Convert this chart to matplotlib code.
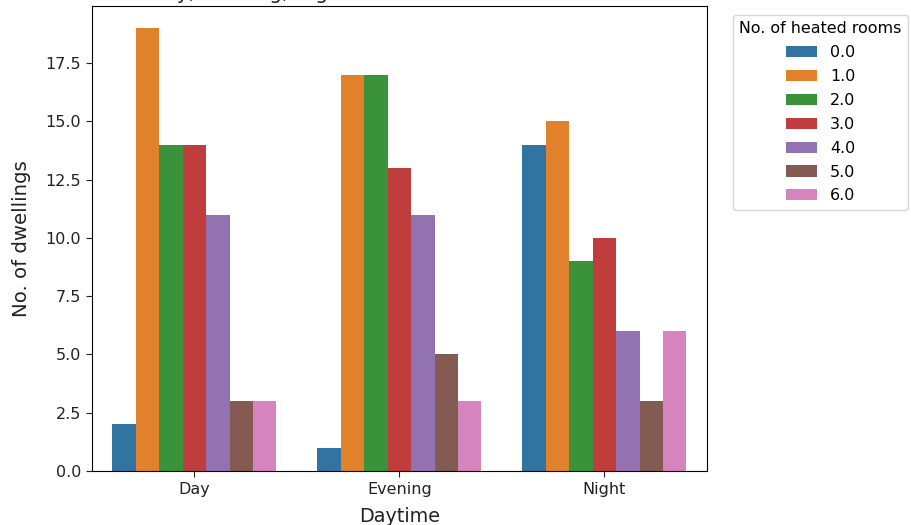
import numpy as np
import matplotlib
matplotlib.use("Agg")
import matplotlib.pyplot as plt

# Heated rooms per daytime
daytimes = ["Day", "Evening", "Night"]
rooms = ["0.0", "1.0", "2.0", "3.0", "4.0", "5.0", "6.0"]
counts_0 = [2, 1, 14]
counts_1 = [19, 17, 15]
counts_2 = [14, 17, 9]
counts_3 = [14, 13, 10]
counts_4 = [11, 11, 6]
counts_5 = [3, 5, 3]
counts_6 = [3, 3, 6]
all_counts = [counts_0, counts_1, counts_2, counts_3, counts_4, counts_5, counts_6]

# seaborn default palette (tab10 desaturated)
colors = ["#3274a1", "#e1812c", "#3a923a", "#c03d3e", "#9372b2", "#845b53", "#d684bd"]

fig = plt.figure(figsize=(9.12, 5.25), dpi=100)
ax = fig.add_axes([92 / 912, 54 / 525, 615 / 912, 465 / 525])

x = np.arange(len(daytimes))
n = len(rooms)
w = 0.8 / n
for i, (lab, vals) in enumerate(zip(rooms, all_counts)):
    ax.bar(x - 0.4 + w * (i + 0.5), vals, width=w, color=colors[i], label=lab)

ax.set_xlim(-0.5, 2.5)
ax.set_ylim(0, 19.95)
ax.set_yticks(np.arange(0, 19, 2.5))
ax.set_xticks(x)
ax.set_xticklabels(daytimes)
ax.tick_params(labelsize=11.5, colors="#222222", length=4.5)
ax.set_xlabel("Daytime", fontsize=13.8, color="#222222", labelpad=7)
ax.set_ylabel("No. of dwellings", fontsize=14.2, color="#222222", labelpad=10.5)

leg = ax.legend(title="No. of heated rooms", fontsize=11.4, title_fontsize=11.4,
                loc="upper left", bbox_to_anchor=(1.0423, 0.9806), borderaxespad=0,
                labelspacing=0.56)

# title is cut off at the top of the picture
fig.text(149 / 912, 1.002, "Day, Evening, Night", fontsize=14.4, color="#222222",
         ha="left", va="baseline")

fig.savefig("out.png", dpi=100)
